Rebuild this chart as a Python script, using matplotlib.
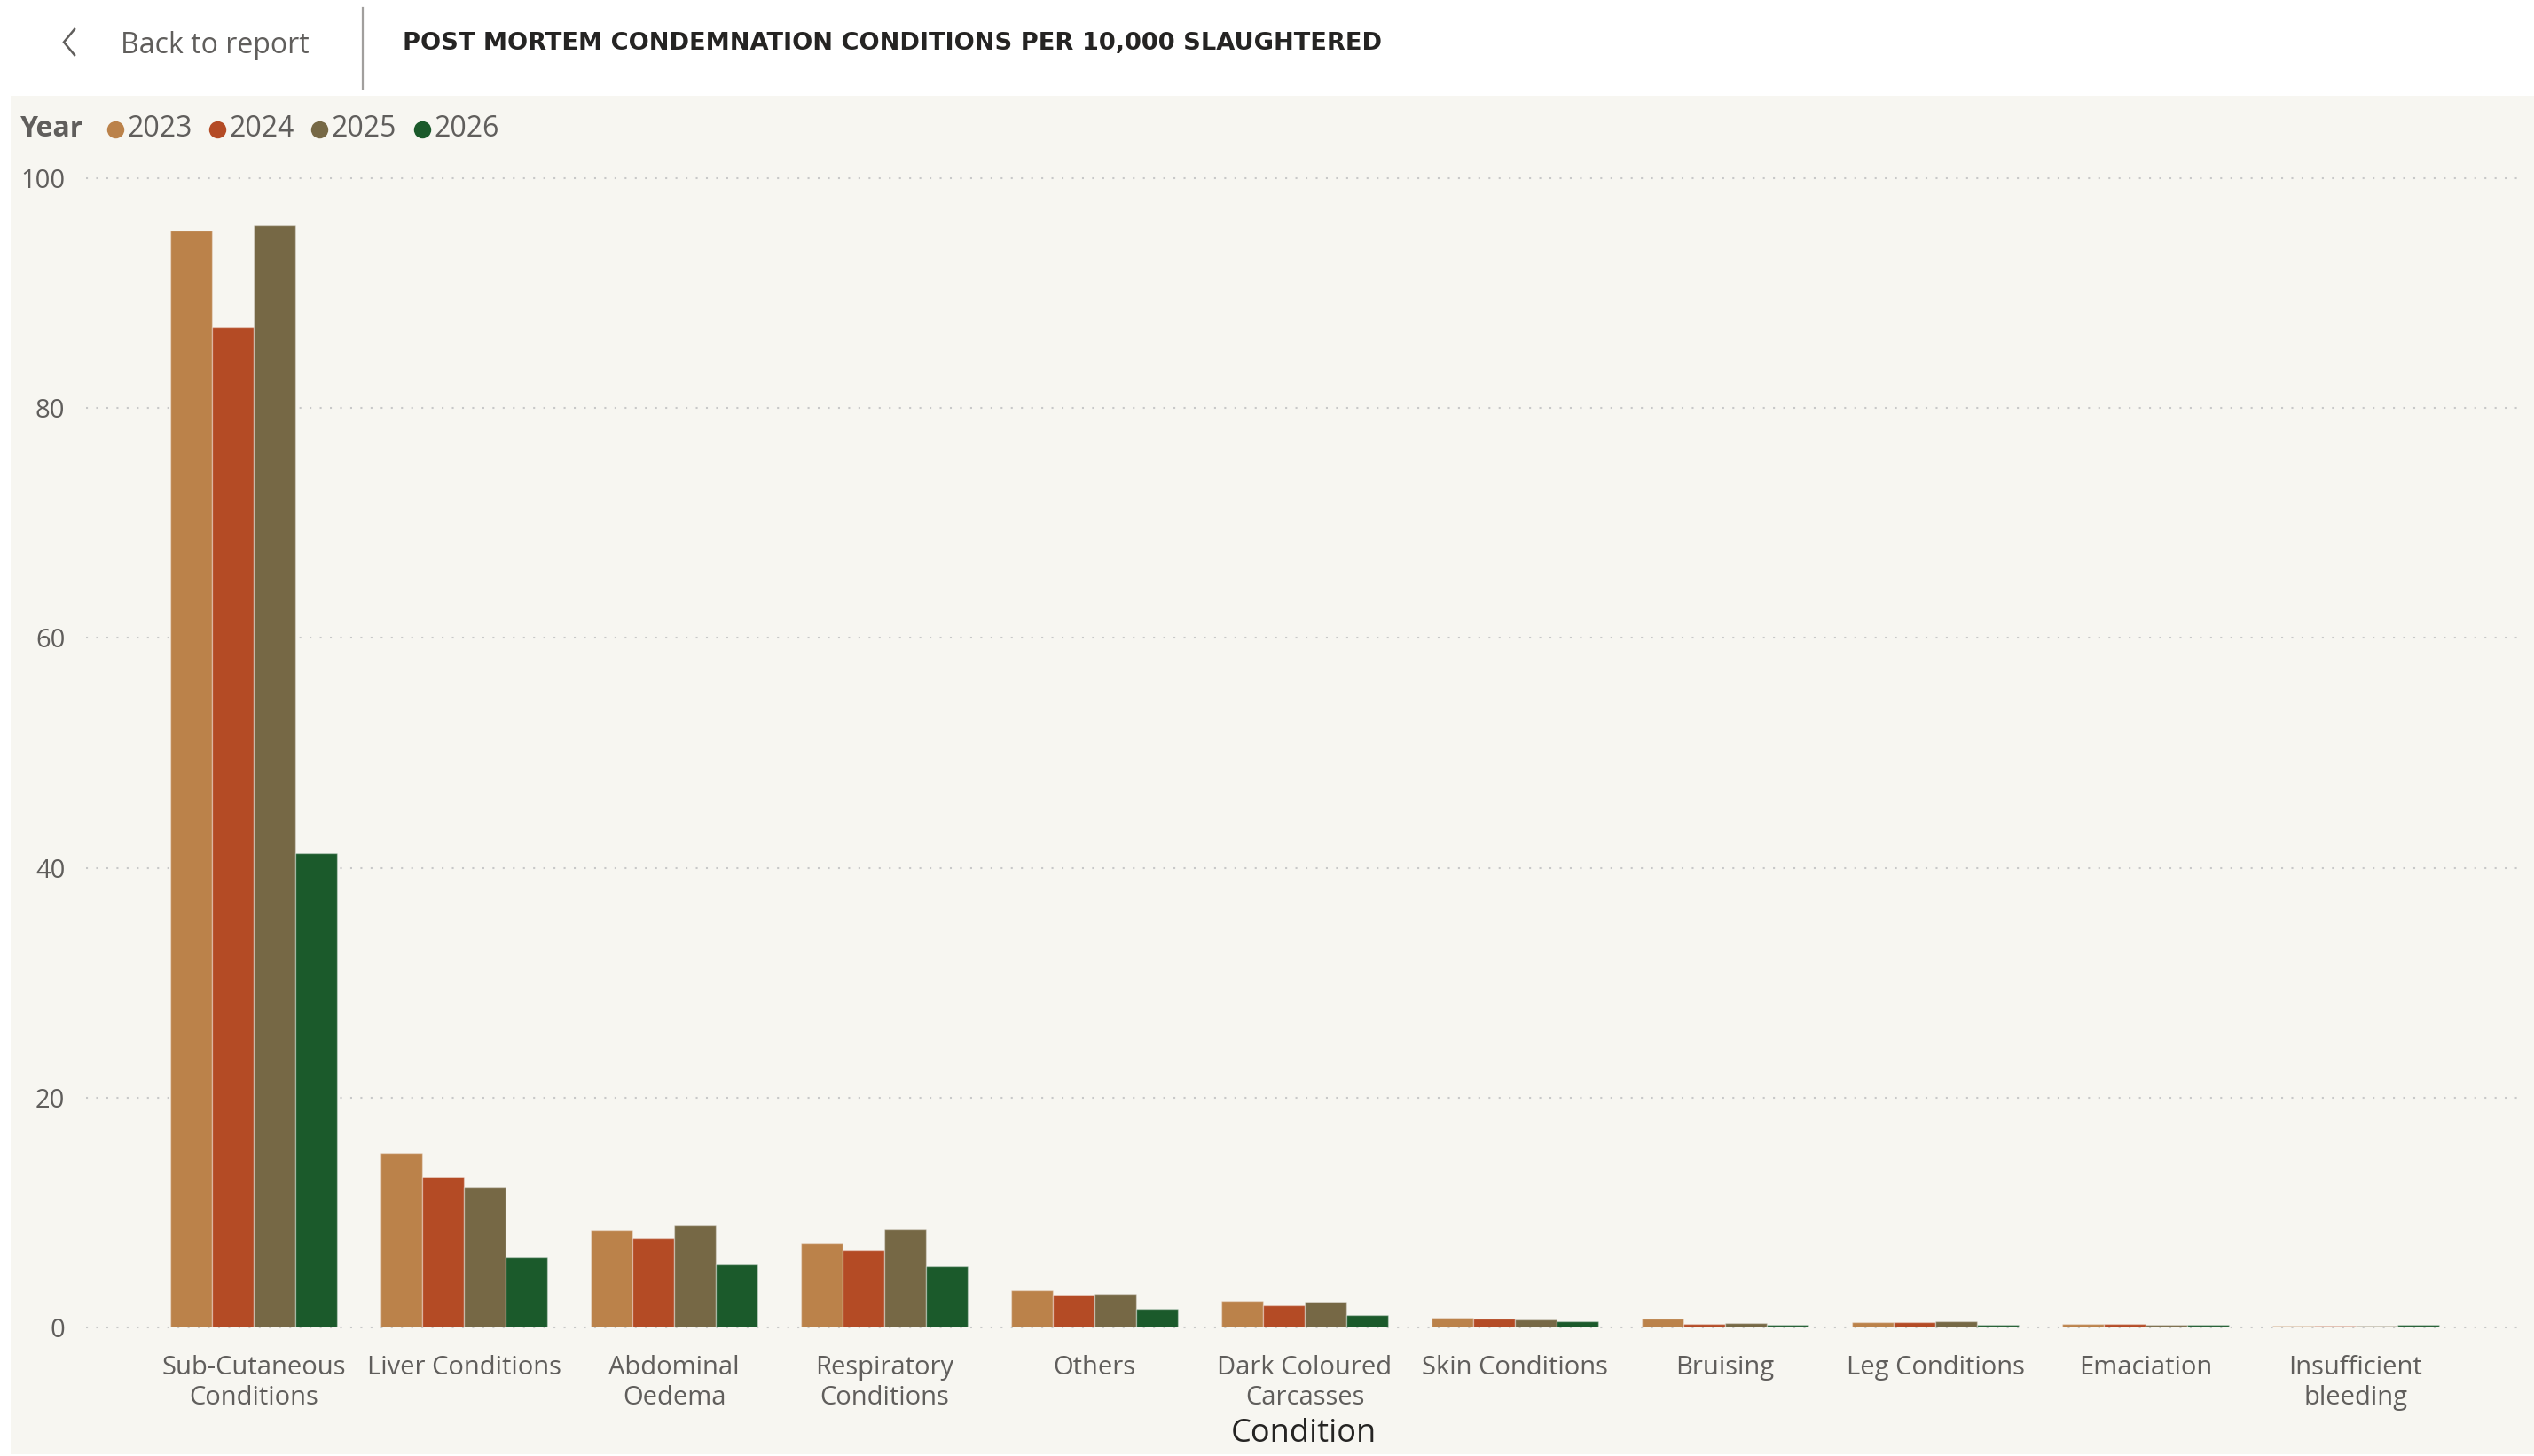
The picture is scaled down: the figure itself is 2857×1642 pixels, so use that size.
import matplotlib
matplotlib.use("Agg")
import matplotlib.pyplot as plt
import numpy as np
from matplotlib.patches import Rectangle
from matplotlib import font_manager

# ---------------- data ----------------
categories = ["Sub-Cutaneous\nConditions", "Liver Conditions", "Abdominal\nOedema",
              "Respiratory\nConditions", "Others", "Dark Coloured\nCarcasses",
              "Skin Conditions", "Bruising", "Leg Conditions", "Emaciation",
              "Insufficient\nbleeding"]
years = ["2023", "2024", "2025", "2026"]
v2023 = [95.45, 15.2, 8.5, 7.3, 3.26, 2.31, 0.82, 0.80, 0.46, 0.31, 0.17]
v2024 = [87.0, 13.1, 7.8, 6.7, 2.85, 1.93, 0.80, 0.31, 0.49, 0.33, 0.17]
v2025 = [95.9, 12.2, 8.9, 8.6, 2.96, 2.24, 0.69, 0.41, 0.51, 0.26, 0.17]
v2026 = [41.3, 6.1, 5.5, 5.3, 1.59, 1.10, 0.51, 0.20, 0.20, 0.20, 0.20]
series = [v2023, v2024, v2025, v2026]
yticks = [0, 20, 40, 60, 80, 100]
colors = ["#BB824A", "#B44B25", "#766845", "#1B5A2B"]

title = "POST MORTEM CONDEMNATION CONDITIONS PER 10,000 SLAUGHTERED"
xlabel = "Condition"
legend_title = "Year"

# ---------------- layout ----------------
W, H = 2857, 1642
DPI = 100
plt.rcParams['font.family'] = ['Open Sans', 'DejaVu Sans']
fig = plt.figure(figsize=(W / DPI, H / DPI), dpi=DPI, facecolor="white")

# decoration axes in pixel coordinates
deco = fig.add_axes([0, 0, 1, 1], zorder=0)
deco.set_xlim(0, W)
deco.set_ylim(H, 0)
deco.axis("off")
deco.add_patch(Rectangle((12, 108), W - 12, H - 108 - 2, facecolor="#F7F6F1",
                         edgecolor="none"))

# header
deco.plot([84, 72, 84], [33, 47.5, 62], color="#605E5C", lw=1.8,
          solid_joinstyle="miter")
deco.text(136, 51, "Back to report", fontsize=23, color="#605E5C",
          va="center", ha="left")
deco.plot([409, 409], [9, 100], color="#A19F9D", lw=1.6)

# pick a condensed bold face for the title if one is installed
title_family = "DejaVu Sans"
title_stretch = "normal"
names = {f.name for f in font_manager.fontManager.ttflist}
for cand in ["DejaVu Sans Condensed", "Liberation Sans Narrow"]:
    if cand in names:
        title_family = cand
        title_stretch = "condensed"
        break
tt = deco.text(454, 49, title, fontsize=20, fontweight="bold",
               color="#252423", va="center", ha="left", family=title_family,
               fontstretch=title_stretch)

# legend
deco.text(23, 146, legend_title, fontsize=23, fontweight="bold",
          color="#605E5C", va="center", ha="left")
leg_x = [130, 245, 360, 476]
for lx, c, yr in zip(leg_x, colors, years):
    deco.plot([lx], [146], marker="o", markersize=14, color=c,
              markeredgewidth=0, linestyle="none")
    deco.text(lx + 13, 146, yr, fontsize=23, color="#605E5C",
              va="center", ha="left")

# ---------------- main chart ----------------
ax_left, ax_right, ax_top, ax_bot = 97, 2842, 201, 1497
ax = fig.add_axes([ax_left / W, 1 - ax_bot / H, (ax_right - ax_left) / W,
                   (ax_bot - ax_top) / H], zorder=1)
ax.set_facecolor("none")

x = np.arange(len(categories))
bw = 0.198
offsets = (np.arange(len(years)) - 1.5) * bw
for off, vals, c in zip(offsets, series, colors):
    ax.bar(x + off, vals, width=bw, color=c, edgecolor=(1, 1, 1, 0.35),
           linewidth=1.0, zorder=3)

ax.set_xlim((ax_left - 286) / 237, (ax_right - 286) / 237)
ax.set_ylim(0, 100)
ax.set_yticks(yticks)
ax.set_yticklabels([str(v) for v in yticks])
ax.set_xticks(x)
ax.set_xticklabels(categories, linespacing=1.25)
ax.yaxis.grid(True, color="#C8C8C8", linestyle=(0, (1, 4.5)), linewidth=1.5)
for gl in ax.get_ygridlines():
    gl.set_clip_on(False)
ax.set_axisbelow(True)
for s in ax.spines.values():
    s.set_visible(False)
ax.tick_params(axis="y", length=0, pad=17, labelsize=21, labelcolor="#605E5C")
ax.tick_params(axis="x", length=0, pad=22, labelsize=21, labelcolor="#605E5C")

ax.set_xlabel(xlabel, fontsize=26, color="#252423")
ax.xaxis.set_label_coords(0.5, -(1617 - ax_bot) / (ax_bot - ax_top))
ax.xaxis.label.set_va("center")

# fit title width to target
fig.canvas.draw()
bb = tt.get_window_extent()
target = 1556 - 454
tt.set_fontsize(20 * target / bb.width)

fig.savefig("out.png", dpi=DPI, facecolor="white")
